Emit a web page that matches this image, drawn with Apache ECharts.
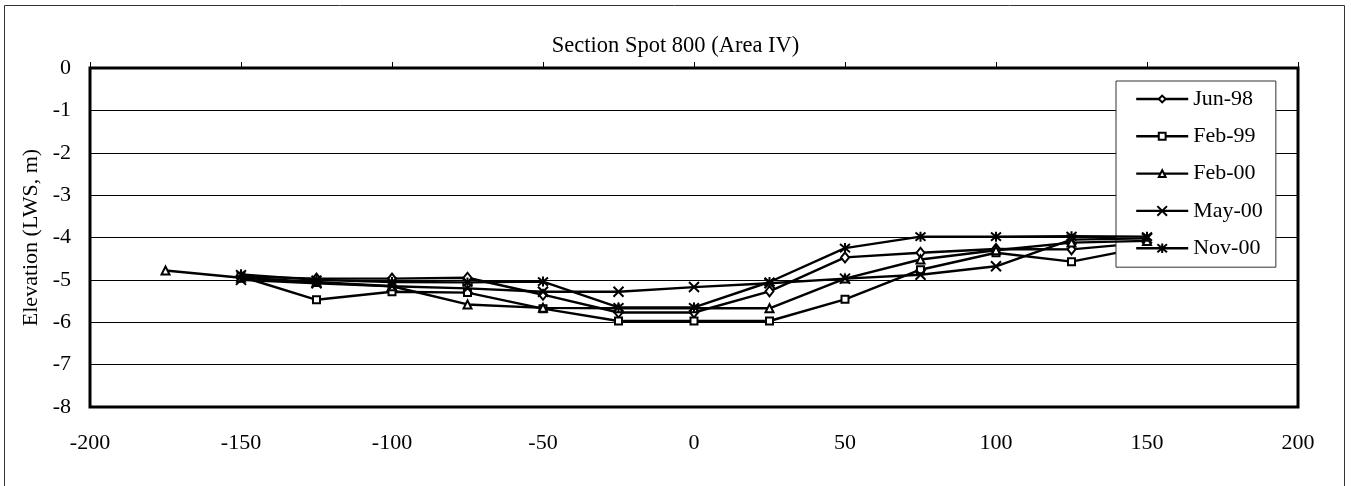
<!DOCTYPE html>
<html>
<head>
<meta charset="utf-8">
<script src="https://cdn.jsdelivr.net/npm/echarts@6/dist/echarts.min.js"></script>
<style>
  html, body { margin: 0; padding: 0; background: #fff; }
  #chart { width: 1351px; height: 486px; }
</style>
</head>
<body>
<div id="chart"></div>
<script>
// Cross-section survey, distance along section (m) vs bed elevation (LWS, m)
const stations = [-175, -150, -125, -100, -75, -50, -25, 0, 25, 50, 75, 100, 125, 150];

const jun98 = [null, -4.92, -4.97, -4.97, -4.95, -5.35, -5.77, -5.77, -5.27, -4.47, -4.36, -4.27, -4.28, -4.12];
const feb99 = [null, -4.92, -5.47, -5.28, -5.30, -5.68, -5.97, -5.97, -5.97, -5.46, -4.76, -4.36, -4.57, -4.22];
const feb00 = [-4.78, -4.95, -5.05, -5.15, -5.58, -5.66, -5.67, -5.67, -5.67, -4.97, -4.52, -4.30, -4.12, -4.08];
const may00 = [null, -5.00, -5.08, -5.15, -5.20, -5.28, -5.28, -5.17, -5.08, -4.97, -4.88, -4.68, -4.05, -4.02];
const nov00 = [null, -4.87, -5.00, -5.05, -5.06, -5.04, -5.65, -5.65, -5.05, -4.25, -3.98, -3.98, -3.97, -3.98];

const seriesNames = ['Jun-98', 'Feb-99', 'Feb-00', 'May-00', 'Nov-00'];
const seriesValues = [jun98, feb99, feb00, may00, nov00];

const chartTitle = 'Section Spot 800 (Area IV)';
const yAxisTitle = 'Elevation (LWS, m)';

const FONT = '"Liberation Serif", "Times New Roman", serif';

// marker shapes, one per survey; the hollow shapes carry a little empty
// margin (leading moveTo points) so they draw smaller inside the legend
const markers = [
  { symbol: 'path://M-2 -2M12 12M0 5L5 0L10 5L5 10Z', size: [11.2, 14], fill: '#fff' },
  { symbol: 'path://M-2 -2M12 12M0 0L10 0L10 10L0 10Z', size: 9.8, fill: '#fff' },
  { symbol: 'path://M-2 -2M12 12M5 0L10 10L0 10Z', size: 11.2, fill: '#fff' },
  { symbol: 'path://M0 0L10 10M10 0L0 10', size: 10, fill: '#000' },
  { symbol: 'path://M0 0L10 10M10 0L0 10M5 -1L5 11', size: 10, fill: '#000' }
];

function pairs(values) {
  const out = [];
  stations.forEach((x, i) => {
    if (values[i] !== null) out.push([x, values[i]]);
  });
  return out;
}

const series = seriesNames.map((name, k) => ({
  name: name,
  type: 'line',
  data: pairs(seriesValues[k]),
  symbol: markers[k].symbol,
  symbolSize: markers[k].size,
  showAllSymbol: true,
  lineStyle: { color: '#000', width: 2.4 },
  itemStyle: { color: markers[k].fill, borderColor: '#000', borderWidth: 2 },
  emphasis: { disabled: true },
  z: 2 + k
}));

const chart = echarts.init(document.getElementById('chart'), null, { renderer: 'canvas' });

chart.setOption({
  animation: false,
  backgroundColor: '#fff',
  title: {
    text: chartTitle,
    left: 'center',
    top: 35,
    padding: 0,
    textStyle: { fontFamily: FONT, fontSize: 22.5, fontWeight: 'normal', color: '#000', lineHeight: 22 }
  },
  graphic: [{
    type: 'rect',
    silent: true,
    z: -1,
    shape: { x: 4.5, y: 5.5, width: 1340, height: 520 },
    style: { fill: 'none', stroke: '#333', lineWidth: 1 }
  }],
  grid: {
    left: 90, top: 68, width: 1208, height: 339,
    show: true, borderColor: '#000', borderWidth: 3, backgroundColor: 'transparent'
  },
  legend: {
    orient: 'vertical',
    left: 1116, top: 81,
    padding: [7, 13, 8, 19],
    itemWidth: 52,
    itemHeight: 12,
    itemGap: 15.3,
    backgroundColor: '#fff',
    borderColor: '#333',
    borderWidth: 1,
    borderRadius: 0,
    selectedMode: false,
    lineStyle: { color: '#000', width: 2.4 },
    textStyle: { fontFamily: FONT, fontSize: 22, color: '#000', lineHeight: 22 },
    data: seriesNames
  },
  xAxis: {
    type: 'value',
    min: -200, max: 200, interval: 50,
    axisLine: { show: false },
    axisTick: { show: true, inside: true, length: 6, lineStyle: { color: '#000', width: 1 } },
    axisLabel: { margin: 25, fontFamily: FONT, fontSize: 22, color: '#000', showMinLabel: true, showMaxLabel: true },
    splitLine: { show: false }
  },
  yAxis: {
    type: 'value',
    min: -8, max: 0, interval: 1,
    name: yAxisTitle,
    nameLocation: 'middle',
    nameRotate: 90,
    nameGap: 43,
    nameTextStyle: { fontFamily: FONT, fontSize: 22, color: '#000' },
    axisLine: { show: false },
    axisTick: { show: false },
    axisLabel: { margin: 19, fontFamily: FONT, fontSize: 22, color: '#000' },
    splitLine: { show: true, lineStyle: { color: '#000', width: 1 } }
  },
  series: series
});
</script>
</body>
</html>
